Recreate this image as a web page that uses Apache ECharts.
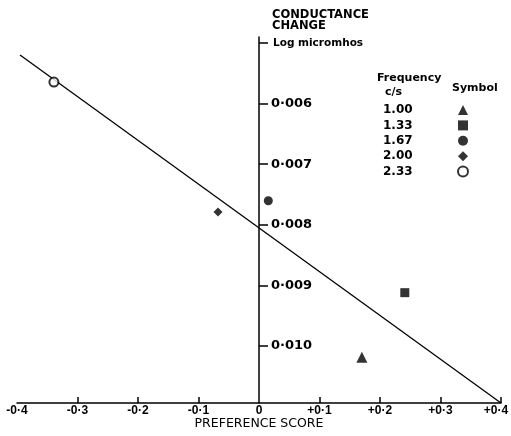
<!DOCTYPE html>
<html>
<head>
<meta charset="utf-8">
<script src="https://cdn.jsdelivr.net/npm/echarts@6/dist/echarts.min.js"></script>
<style>html,body{margin:0;padding:0;background:#fff}#c{width:511px;height:436px}</style>
</head>
<body>
<div id="c"></div>
<script>
// ---- data ----
const xTicks = [-0.4, -0.3, -0.2, -0.1, 0, 0.1, 0.2, 0.3, 0.4];
const xTickLabels = ['-0·4', '-0·3', '-0·2', '-0·1', '0', '+0·1', '+0·2', '+0·3', '+0·4'];
const yTicks = [0.005, 0.006, 0.007, 0.008, 0.009, 0.010];
const yTickLabels = ['Log micromhos', '0·006', '0·007', '0·008', '0·009', '0·010'];
const frequencies = ['1.00', '1.33', '1.67', '2.00', '2.33'];
const symbols = ['triangle', 'rect', 'circle', 'diamond', 'emptyCircle'];
const symbolSizes = [11, 9, 9, 9, 9];
const preferenceScore = [0.170, 0.241, 0.0154, -0.0678, -0.339];
const conductanceChange = [0.010187, 0.00912, 0.007602, 0.007789, 0.005644];
const fitX = [-0.395, 0.4];
const fitY = [0.005198, 0.010941];

const FONT = '"DejaVu Sans", sans-serif';
const FONT2 = '"Liberation Sans", sans-serif';
function idxOf(arr, v) { for (let i = 0; i < arr.length; i++) if (Math.abs(arr[i] - v) < 1e-9) return i; return -1; }

const scatterSeries = frequencies.map((f, i) => ({
  name: f,
  type: 'scatter',
  symbol: symbols[i],
  symbolSize: symbolSizes[i],
  data: [[preferenceScore[i], conductanceChange[i]]],
  itemStyle: symbols[i] === 'emptyCircle'
    ? { color: '#000', borderColor: '#000', borderWidth: 2 }
    : { color: '#000' },
  z: 5
}));

const GRID_LEFT = 17, GRID_RIGHT = 10;
const plotW = 511 - GRID_LEFT - GRID_RIGHT;
const zeroOffset = (0 - xTicks[0]) / (xTicks[xTicks.length - 1] - xTicks[0]) * plotW;

const chart = echarts.init(document.getElementById('c'), null, { renderer: 'canvas' });
chart.setOption({
  animation: false,
  backgroundColor: '#fff',
  grid: { left: GRID_LEFT, right: GRID_RIGHT, top: 37, bottom: 33, containLabel: false, outerBoundsMode: 'none' },
  xAxis: {
    type: 'value', min: -0.4, max: 0.4,
    axisLine: { onZero: false, lineStyle: { color: '#000', width: 1.5 } },
    axisTick: { inside: true, length: 6, customValues: [-0.3, -0.2, -0.1, 0.1, 0.2, 0.3, 0.4], lineStyle: { color: '#000', width: 1.5 } },
    axisLabel: {
      customValues: xTicks, margin: 2, color: '#000', fontFamily: FONT2, fontWeight: 'bold', fontSize: 12,
      formatter: v => { const i = idxOf(xTicks, v); return i === xTicks.length - 1 ? '{r|' + xTickLabels[i] + '}' : xTickLabels[i]; },
      rich: { r: { fontFamily: FONT2, fontWeight: 'bold', fontSize: 12, color: '#000', padding: [0, 10, 0, 0] } }
    },
    splitLine: { show: false },
    name: 'PREFERENCE SCORE', nameLocation: 'middle', nameGap: 14, nameMoveOverlap: false,
    nameTextStyle: { color: '#000', fontFamily: FONT, fontSize: 12.5, verticalAlign: 'top' }
  },
  yAxis: {
    type: 'value', inverse: true, min: 0.0049, max: 0.010941,
    position: 'left', offset: -zeroOffset,
    axisLine: { onZero: false, lineStyle: { color: '#000', width: 1.5 } },
    axisTick: { inside: true, length: 9, customValues: yTicks, lineStyle: { color: '#000', width: 1.5 } },
    axisLabel: {
      inside: true, margin: 12, customValues: yTicks, color: '#000', fontFamily: FONT, fontWeight: 'bold', fontSize: 13,
      formatter: v => { const i = idxOf(yTicks, v); return i === 0 ? '{s|' + yTickLabels[i] + '}' : yTickLabels[i]; },
      rich: { s: { fontFamily: FONT, fontWeight: 'bold', fontSize: 10.5, color: '#000', padding: [0, 0, 0, 2] } }
    },
    splitLine: { show: false }
  },
  legend: {
    orient: 'vertical', left: 383, top: 103, align: 'right', selectedMode: false, padding: 0,
    itemWidth: 10, itemHeight: 10, itemGap: 1.4,
    formatter: name => '{a|' + name + '}',
    textStyle: {
      color: '#000', fontFamily: FONT, fontWeight: 'bold', fontSize: 12, lineHeight: 14,
      rich: { a: { width: 70, align: 'left', color: '#000', fontFamily: FONT, fontWeight: 'bold', fontSize: 12, lineHeight: 14 } }
    },
    data: frequencies
  },
  graphic: [
    { type: 'text', x: 272, y: 15.5, style: { text: 'CONDUCTANCE', fill: '#000', font: 'bold 11.5px ' + FONT, verticalAlign: 'middle' } },
    { type: 'text', x: 272, y: 26.5, style: { text: 'CHANGE', fill: '#000', font: 'bold 11.5px ' + FONT, verticalAlign: 'middle' } },
    { type: 'text', x: 377, y: 78, style: { text: 'Frequency', fill: '#000', font: 'bold 11px ' + FONT, verticalAlign: 'middle' } },
    { type: 'text', x: 385, y: 92, style: { text: 'c/s', fill: '#000', font: 'bold 11px ' + FONT, verticalAlign: 'middle' } },
    { type: 'text', x: 452, y: 88, style: { text: 'Symbol', fill: '#000', font: 'bold 11px ' + FONT, verticalAlign: 'middle' } }
  ],
  series: [
    {
      name: 'fit', type: 'line', symbol: 'none', silent: true,
      data: fitX.map((x, i) => [x, fitY[i]]),
      lineStyle: { color: '#000', width: 1.3 }, z: 3
    },
    ...scatterSeries
  ]
});
</script>
</body>
</html>
